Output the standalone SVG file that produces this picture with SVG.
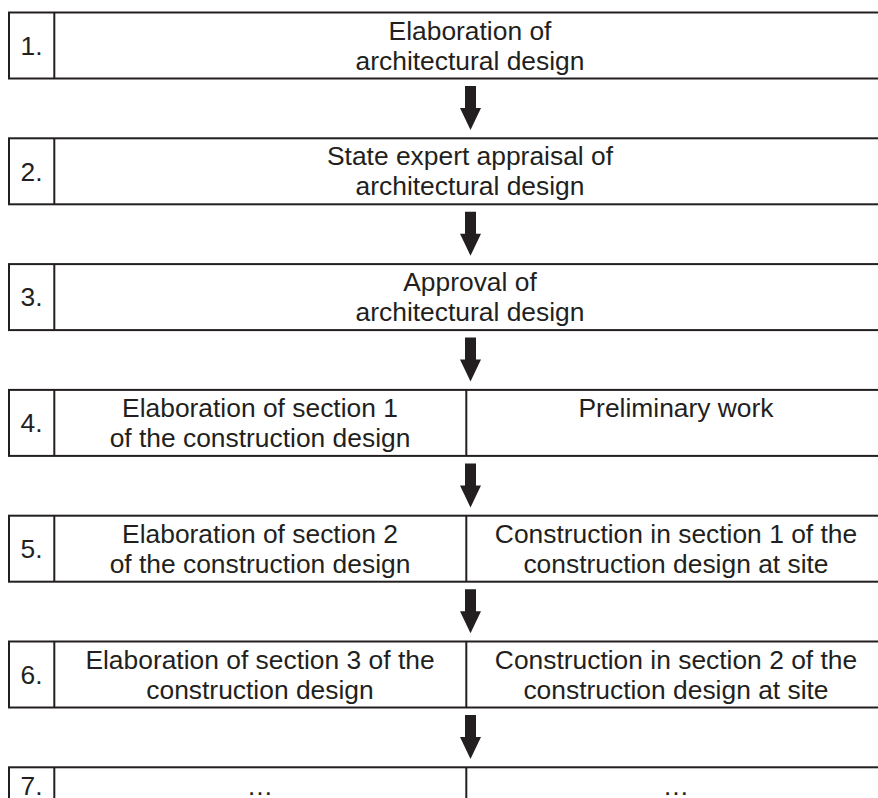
<svg xmlns="http://www.w3.org/2000/svg" width="878" height="798" viewBox="0 0 878 798">
<defs>
<style>
.box{fill:#fff;stroke:#231f20;stroke-width:2}
.div{stroke:#231f20;stroke-width:2}
.t{font-family:"Liberation Sans",Arial,sans-serif;font-size:26.4px;fill:#231f20;text-anchor:middle}
.arrow{fill:#231f20}
</style>
<path id="arr" d="M-5.5,0 H5.5 V22 H10.5 L0,44 L-10.5,22 H-5.5 Z"/>
</defs>
<rect width="878" height="798" fill="#fff"/>
<g id="step1">
<rect class="box" x="9" y="12.5" width="880" height="66"/>
<line class="div" x1="54.3" y1="12.5" x2="54.3" y2="78.5"/>
<text class="t" x="31.5" y="54.8">1.</text>
<text class="t" x="470" y="39.5">Elaboration of</text>
<text class="t" x="470" y="69.5">architectural design</text>
</g>
<g id="step2">
<rect class="box" x="9" y="138.3" width="880" height="66"/>
<line class="div" x1="54.3" y1="138.3" x2="54.3" y2="204.3"/>
<text class="t" x="31.5" y="180.6">2.</text>
<text class="t" x="470" y="165.3">State expert appraisal of</text>
<text class="t" x="470" y="195.3">architectural design</text>
</g>
<g id="step3">
<rect class="box" x="9" y="264.1" width="880" height="66"/>
<line class="div" x1="54.3" y1="264.1" x2="54.3" y2="330.1"/>
<text class="t" x="31.5" y="306.4">3.</text>
<text class="t" x="470" y="291.1">Approval of</text>
<text class="t" x="470" y="321.1">architectural design</text>
</g>
<g id="step4">
<rect class="box" x="9" y="389.9" width="880" height="66"/>
<line class="div" x1="54.3" y1="389.9" x2="54.3" y2="455.9"/>
<line class="div" x1="466.3" y1="389.9" x2="466.3" y2="455.9"/>
<text class="t" x="31.5" y="432.2">4.</text>
<text class="t" x="260" y="416.9">Elaboration of section 1</text>
<text class="t" x="260" y="446.9">of the construction design</text>
<text class="t" x="676" y="416.9">Preliminary work</text>
</g>
<g id="step5">
<rect class="box" x="9" y="515.7" width="880" height="66"/>
<line class="div" x1="54.3" y1="515.7" x2="54.3" y2="581.7"/>
<line class="div" x1="466.3" y1="515.7" x2="466.3" y2="581.7"/>
<text class="t" x="31.5" y="558">5.</text>
<text class="t" x="260" y="542.7">Elaboration of section 2</text>
<text class="t" x="260" y="572.7">of the construction design</text>
<text class="t" x="676" y="542.7">Construction in section 1 of the</text>
<text class="t" x="676" y="572.7">construction design at site</text>
</g>
<g id="step6">
<rect class="box" x="9" y="641.5" width="880" height="66"/>
<line class="div" x1="54.3" y1="641.5" x2="54.3" y2="707.5"/>
<line class="div" x1="466.3" y1="641.5" x2="466.3" y2="707.5"/>
<text class="t" x="31.5" y="683.8">6.</text>
<text class="t" x="260" y="668.5">Elaboration of section 3 of the</text>
<text class="t" x="260" y="698.5">construction design</text>
<text class="t" x="676" y="668.5">Construction in section 2 of the</text>
<text class="t" x="676" y="698.5">construction design at site</text>
</g>
<g id="step7">
<rect class="box" x="9" y="767.3" width="880" height="66"/>
<line class="div" x1="54.3" y1="767.3" x2="54.3" y2="833.3"/>
<line class="div" x1="466.3" y1="767.3" x2="466.3" y2="833.3"/>
<text class="t" x="31.5" y="794.5">7.</text>
<text class="t" x="260" y="794.5">…</text>
<text class="t" x="676" y="794.5">…</text>
</g>
<g id="connectors" class="arrow">
<use href="#arr" x="470.5" y="86"/>
<use href="#arr" x="470.5" y="211.8"/>
<use href="#arr" x="470.5" y="337.6"/>
<use href="#arr" x="470.5" y="463.4"/>
<use href="#arr" x="470.5" y="589.2"/>
<use href="#arr" x="470.5" y="715"/>
</g>
</svg>
